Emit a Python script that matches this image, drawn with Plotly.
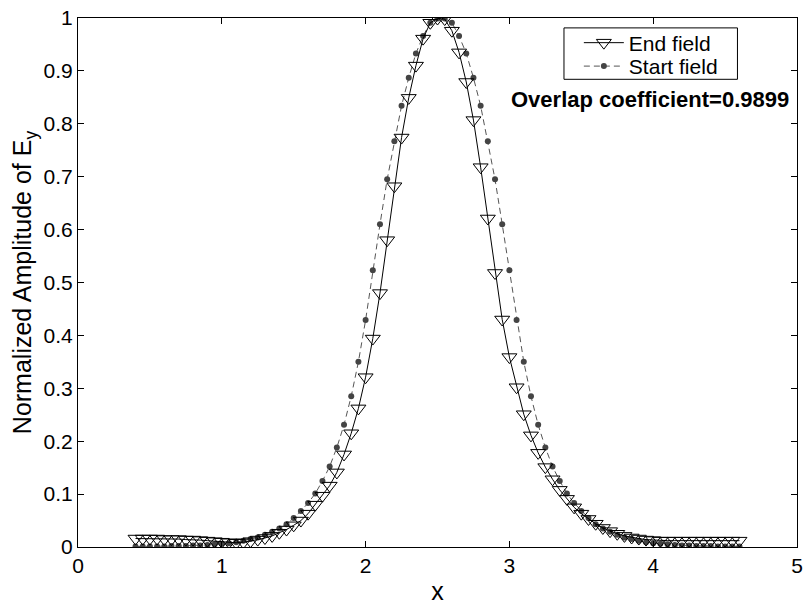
import plotly.graph_objects as go

x_vals = [0.40, 0.45, 0.50, 0.55, 0.60, 0.65, 0.70, 0.75, 0.80, 0.85,
          0.90, 0.95, 1.00, 1.05, 1.10, 1.15, 1.20, 1.25, 1.30, 1.35,
          1.40, 1.45, 1.50, 1.55, 1.60, 1.65, 1.70, 1.75, 1.80, 1.85,
          1.90, 1.95, 2.00, 2.05, 2.10, 2.15, 2.20, 2.25, 2.30, 2.35,
          2.40, 2.45, 2.50, 2.55, 2.60, 2.65, 2.70, 2.75, 2.80, 2.85,
          2.90, 2.95, 3.00, 3.05, 3.10, 3.15, 3.20, 3.25, 3.30, 3.35,
          3.40, 3.45, 3.50, 3.55, 3.60, 3.65, 3.70, 3.75, 3.80, 3.85,
          3.90, 3.95, 4.00, 4.05, 4.10, 4.15, 4.20, 4.25, 4.30, 4.35,
          4.40, 4.45, 4.50, 4.55, 4.60]

end_field = [0.016, 0.016, 0.016, 0.016, 0.015, 0.015, 0.015, 0.014, 0.014, 0.013,
             0.012, 0.011, 0.010, 0.009, 0.008, 0.009, 0.011, 0.014, 0.017, 0.021,
             0.027, 0.033, 0.041, 0.050, 0.063, 0.080, 0.097, 0.116, 0.141, 0.175,
             0.215, 0.262, 0.321, 0.394, 0.480, 0.580, 0.682, 0.774, 0.849, 0.910,
             0.961, 0.991, 0.999, 0.998, 0.976, 0.935, 0.879, 0.807, 0.718, 0.621,
             0.518, 0.430, 0.359, 0.302, 0.251, 0.211, 0.178, 0.151, 0.128, 0.108,
             0.091, 0.075, 0.063, 0.053, 0.044, 0.036, 0.030, 0.025, 0.021, 0.018,
             0.016, 0.014, 0.013, 0.012, 0.012, 0.012, 0.012, 0.012, 0.012, 0.012,
             0.012, 0.012, 0.012, 0.012, 0.012]

start_field = [0.001, 0.001, 0.001, 0.001, 0.001, 0.002, 0.002, 0.002, 0.003, 0.003,
               0.004, 0.005, 0.006, 0.007, 0.009, 0.012, 0.015, 0.018, 0.023, 0.029,
               0.035, 0.043, 0.055, 0.068, 0.083, 0.101, 0.125, 0.152, 0.188, 0.231,
               0.285, 0.350, 0.429, 0.523, 0.610, 0.695, 0.767, 0.834, 0.887, 0.933,
               0.966, 0.991, 0.999, 0.999, 0.991, 0.966, 0.933, 0.887, 0.834, 0.767,
               0.695, 0.610, 0.523, 0.429, 0.350, 0.285, 0.231, 0.188, 0.152, 0.125,
               0.101, 0.083, 0.068, 0.055, 0.043, 0.035, 0.029, 0.023, 0.018, 0.015,
               0.012, 0.009, 0.007, 0.006, 0.005, 0.004, 0.003, 0.003, 0.002, 0.002,
               0.002, 0.001, 0.001, 0.001, 0.001]

x_ticks = [0, 1, 2, 3, 4, 5]
y_ticks = [0, 0.1, 0.2, 0.3, 0.4, 0.5, 0.6, 0.7, 0.8, 0.9, 1]
y_tick_text = ["0", "0.1", "0.2", "0.3", "0.4", "0.5", "0.6", "0.7", "0.8", "0.9", "1"]

FONT = "Liberation Sans, Arial, Helvetica, sans-serif"
FS = 21

fig = go.Figure()
fig.add_trace(go.Scatter(
    x=x_vals, y=start_field, name="Start field", mode="lines+markers",
    line=dict(color="#555555", width=1, dash="6px,4px"),
    marker=dict(symbol="circle", size=6, color="#444444"),
    legend="legend2",
))
fig.add_trace(go.Scatter(
    x=x_vals, y=end_field, name="End field", mode="lines+markers",
    line=dict(color="black", width=1),
    marker=dict(symbol="triangle-down-open", size=13, color="black",
                line=dict(width=1, color="black")),
    legend="legend",
))

leg_common = dict(
    xanchor="left", yanchor="middle",
    bgcolor="rgba(0,0,0,0)", borderwidth=0,
    font=dict(size=FS, family=FONT), itemwidth=40,
)

fig.update_layout(
    width=809, height=609,
    margin=dict(l=78, r=6, t=12, b=62),
    paper_bgcolor="white", plot_bgcolor="white",
    font=dict(family=FONT, size=FS, color="black"),
    showlegend=True,
    legend=dict(x=0.6966, y=0.9527, **leg_common),
    legend2=dict(x=0.6966, y=0.9084, **leg_common),
    xaxis=dict(
        range=[0, 5], tickvals=x_ticks, ticks="inside", ticklen=6,
        showline=True, linecolor="black", linewidth=1, mirror="allticks",
        showgrid=False, zeroline=False, tickcolor="black",
        title=dict(text="x", standoff=6),
    ),
    yaxis=dict(
        range=[0, 1], tickvals=y_ticks, ticktext=y_tick_text, ticks="inside", ticklen=6,
        showline=True, linecolor="black", linewidth=1, mirror="allticks",
        showgrid=False, zeroline=False, tickcolor="black",
        title=dict(text="Normalized Amplitude of E<sub>y</sub>", standoff=4),
    ),
    shapes=[dict(
        type="rect", xref="paper", yref="paper",
        x0=0.6759, x1=0.9172, y0=0.8841, y1=0.9813,
        line=dict(color="black", width=1), fillcolor="white", layer="below",
    )],
    annotations=[dict(
        x=0.796, y=0.845, xref="paper", yref="paper",
        text="<b>Overlap coefficient=0.9899</b>", showarrow=False,
        font=dict(size=22, family=FONT), xanchor="center", yanchor="middle",
    )],
)

fig.write_html("out.html")
